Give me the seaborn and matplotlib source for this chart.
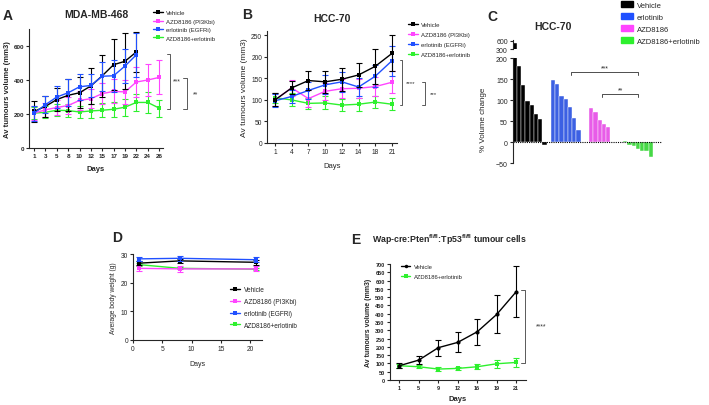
import numpy as np
import pandas as pd
import matplotlib
matplotlib.use("Agg")
import matplotlib.pyplot as plt
import seaborn as sns
from matplotlib.lines import Line2D
from matplotlib.patches import Patch

# ---- panel A: MDA-MB-468 xenograft ----
a_days = [1, 3, 5, 8, 10, 12, 15, 17, 19, 22, 24, 26]
a_vehicle = [215, 245, 285, 310, 325, 365, 425, 490, 510, 565]
a_vehicle_err = [60, 60, 70, 95, 90, 105, 125, 150, 165, 120]
a_azd = [205, 225, 238, 250, 280, 290, 320, 333, 330, 388, 400, 415]
a_azd_err = [40, 40, 45, 50, 55, 55, 60, 70, 70, 90, 95, 100]
a_erl = [205, 255, 300, 325, 360, 368, 422, 425, 482, 548]
a_erl_err = [45, 50, 65, 80, 75, 70, 85, 95, 100, 130]
a_combo = [205, 210, 222, 220, 212, 218, 222, 228, 240, 268, 268, 235]
a_combo_err = [35, 35, 35, 40, 35, 40, 40, 45, 50, 50, 60, 50]

# ---- panel B: HCC-70 xenograft ----
b_days = [1, 4, 7, 10, 12, 14, 18, 21]
b_vehicle = [100, 128, 145, 142, 148, 158, 178, 208]
b_vehicle_err = [15, 15, 22, 25, 27, 28, 40, 42]
b_azd = [100, 128, 103, 120, 126, 127, 131, 141]
b_azd_err = [15, 18, 20, 20, 22, 22, 22, 25]
b_erl = [98, 108, 122, 135, 142, 130, 155, 191]
b_erl_err = [15, 15, 20, 22, 23, 20, 25, 35]
b_combo = [105, 100, 92, 93, 88, 90, 95, 90]
b_combo_err = [12, 15, 13, 15, 13, 15, 13, 14]

# ---- panel C: waterfall, % volume change per tumour ----
c_vehicle = [520, 181, 137, 98, 90, 67, 56, -6]
c_erl = [148, 140, 110, 102, 83, 57, 30]
c_azd = [81, 71, 53, 44, 37]
c_combo = [4, -6, -8, -16, -21, -21, -36]
c_start = [0, 9, 18, 26]  # first slot of each group

# ---- panel D: body weight ----
d_days = [1, 8, 21]
d_vehicle = [26.8, 27.6, 27.1]
d_vehicle_err = [0.8, 0.8, 0.8]
d_azd = [25.0, 24.8, 24.8]
d_azd_err = [1.0, 1.0, 0.9]
d_erl = [28.3, 28.5, 28.0]
d_erl_err = [0.8, 0.8, 0.8]
d_combo = [26.3, 25.0, 24.7]
d_combo_err = [0.5, 0.4, 0.4]

# ---- panel E: Wap-cre tumour cells ----
e_days = [1, 5, 9, 12, 16, 19, 21]
e_vehicle = [86, 120, 195, 227, 291, 396, 533]
e_vehicle_err = [15, 25, 48, 60, 77, 115, 155]
e_combo = [86, 80, 66, 70, 80, 98, 106]
e_combo_err = [12, 10, 10, 10, 15, 25, 28]

BLACK = "#000000"
MAGENTA = "#ff45ff"
BLUE = "#2050ff"
GREEN = "#2ef02e"

sns.set_theme(style="ticks")
plt.rcParams["font.family"] = ["Liberation Sans", "DejaVu Sans"]
plt.rcParams["mathtext.fontset"] = "custom"
plt.rcParams["mathtext.rm"] = "Liberation Sans"
plt.rcParams["mathtext.bf"] = "Liberation Sans:bold"
plt.rcParams["axes.linewidth"] = 0.8
plt.rcParams["xtick.major.width"] = 0.8
plt.rcParams["ytick.major.width"] = 0.8
plt.rcParams["xtick.major.size"] = 2
plt.rcParams["ytick.major.size"] = 2
plt.rcParams["xtick.major.pad"] = 1.5
plt.rcParams["ytick.major.pad"] = 1.5

W, H = 709, 406
fig = plt.figure(figsize=(W / 100, H / 100), dpi=100)


def px_axes(x0, y0, x1, y1):
    return fig.add_axes([x0 / W, 1 - y1 / H, (x1 - x0) / W, (y1 - y0) / H])


def fig_text(x, y, s, **kw):
    fig.text(x / W, 1 - y / H, s, **kw)


def style_ticks(ax, size, bold):
    ax.tick_params(labelsize=size)
    if bold:
        for lbl in ax.get_xticklabels() + ax.get_yticklabels():
            lbl.set_fontweight("bold")


def draw_series(ax, x, y, err, color, marker="s", ms=3):
    ax.errorbar(x, y, yerr=err, fmt="none", ecolor=color, elinewidth=0.8,
                capsize=2, capthick=0.8)
    sns.lineplot(x=x, y=y, color=color, marker=marker, markersize=ms,
                 markeredgewidth=0, linewidth=1, ax=ax, legend=False)


def bracket(ax, x, y0, y1, tick, text, tx, fs):
    ax.plot([x - tick, x, x, x - tick], [y0, y0, y1, y1], color="0.35",
            lw=0.7, clip_on=False)
    ax.text(tx, (y0 + y1) / 2, text, ha="center", va="center", fontsize=fs,
            color="0.2")


def place_legend(ax, handles, labels, x, y, fs, spacing, hl=1.6):
    ax.legend(handles, labels, loc="upper left",
              bbox_to_anchor=(x / W, 1 - y / H), bbox_transform=fig.transFigure,
              frameon=False, fontsize=fs, labelspacing=spacing,
              handlelength=hl, handletextpad=0.6, borderpad=0, borderaxespad=0)


def line_handle(color, marker="s"):
    return Line2D([0], [0], color=color, marker=marker, markersize=2.5,
                  markeredgewidth=0, lw=1)


four_labels_a = ["Vehicle", "AZD8186 (PI3Kbi)", "erlotinib (EGFRi)",
                 "AZD8186+erlotinib"]

# ================= A =================
ax = px_axes(29, 30, 163, 149)
for vals, errs, col in [(a_combo, a_combo_err, GREEN), (a_azd, a_azd_err, MAGENTA),
                        (a_vehicle, a_vehicle_err, BLACK), (a_erl, a_erl_err, BLUE)]:
    draw_series(ax, np.arange(len(vals)), vals, errs, col)
ax.set_xlim(-0.45, 11.35)
ax.set_ylim(0, 700)
ax.set_xticks(np.arange(len(a_days)))
ax.set_xticklabels(a_days)
ax.set_yticks([0, 200, 400, 600])
style_ticks(ax, 4.5, True)
ax.set_xlabel("Days", fontsize=5.5, fontweight="bold", labelpad=5)
ax.set_ylabel("Av tumours volume (mm3)", fontsize=5.5, fontweight="bold", labelpad=2)
ax.set_title("MDA-MB-468", fontsize=7.5, fontweight="bold", pad=9)
sns.despine(ax=ax)
bracket(ax, 11.97, 555, 232, 0.27, "***", 12.6, 5)
bracket(ax, 13.47, 410, 232, 0.35, "**", 14.2, 5)
place_legend(ax, [line_handle(c) for c in [BLACK, MAGENTA, BLUE, GREEN]],
             four_labels_a, 153, 11, 4.3, 0.55)
fig_text(8, 16, "A", fontsize=10, fontweight="bold", va="center", ha="center")

# ================= B =================
ax = px_axes(267, 32, 397, 144)
for vals, errs, col in [(b_combo, b_combo_err, GREEN), (b_azd, b_azd_err, MAGENTA),
                        (b_erl, b_erl_err, BLUE), (b_vehicle, b_vehicle_err, BLACK)]:
    draw_series(ax, np.arange(len(vals)), vals, errs, col)
ax.set_xlim(-0.48, 7.3)
ax.set_ylim(0, 260)
ax.set_xticks(np.arange(len(b_days)))
ax.set_xticklabels(b_days)
ax.set_yticks(np.arange(0, 251, 50))
style_ticks(ax, 4.8, False)
ax.set_xlabel("Days", fontsize=5.5, labelpad=5)
ax.set_ylabel("Av tumours volume (mm3)", fontsize=6, labelpad=2)
ax.set_title("HCC-70", fontsize=7.5, fontweight="bold", pad=7)
sns.despine(ax=ax)
bracket(ax, 7.62, 192, 88, 0.14, "****", 8.1, 4.5)
bracket(ax, 8.98, 142, 88, 0.2, "***", 9.46, 4.5)
place_legend(ax, [line_handle(c) for c in [BLACK, MAGENTA, BLUE, GREEN]],
             four_labels_a, 408, 23, 4.3, 0.8)
fig_text(247, 15, "B", fontsize=10, fontweight="bold", va="center", ha="center")

# ================= C =================
groups = [("Vehicle", c_vehicle, BLACK), ("erlotinib", c_erl, BLUE),
          ("AZD8186", c_azd, MAGENTA), ("AZD8186+erlotinib", c_combo, GREEN)]
rows = []
for (name, vals, _), start in zip(groups, c_start):
    for i, v in enumerate(vals):
        rows.append({"slot": start + i, "change": v, "group": name})
df_c = pd.DataFrame(rows)
pal_c = {name: col for name, _, col in groups}

ax_top = px_axes(512.7, 41, 661.5, 50.3)
ax_bot = px_axes(512.7, 59.3, 661.5, 164.3)
for axc in (ax_top, ax_bot):
    sns.barplot(data=df_c, x="slot", y="change", hue="group", palette=pal_c,
                native_scale=True, dodge=False, width=1.0, edgecolor="white",
                linewidth=0.3, legend=False, ax=axc)
    axc.set_xlim(-0.5, 34.5)
    axc.spines[["top", "right", "bottom"]].set_visible(False)
    axc.set_xticks([])
    axc.set_xlabel("")
    axc.set_ylabel("")
ax_top.set_ylim(300, 625)
ax_top.set_yticks([300, 600])
ax_bot.set_ylim(-50, 200)
ax_bot.set_yticks(np.arange(-50, 201, 50))
style_ticks(ax_top, 5, False)
style_ticks(ax_bot, 5, False)
ax_bot.axhline(0, color="black", lw=0.8, ls=(0, (1, 1)))
ax_bot.set_ylabel("% Volume change", fontsize=5.8, labelpad=2)
ax_bot.yaxis.set_label_coords(-0.17, 0.42)
for x0, x1, y, txt in [(13.2, 29.0, 167, "***"), (20.5, 29.0, 115, "**")]:
    ax_bot.plot([x0, x0, x1, x1], [y - 6, y, y, y - 6], color="0.3", lw=0.7)
    ax_bot.text((x0 + x1) / 2, y + 1, txt, ha="center", va="bottom", fontsize=5)
fig_text(553, 27, "HCC-70", fontsize=7.5, fontweight="bold", ha="center", va="center")
ax_top.legend([Patch(color=c) for _, _, c in groups], [g[0] for g in groups],
              loc="upper left", bbox_to_anchor=(621 / W, 1 - 2 / H),
              bbox_transform=fig.transFigure, frameon=False, fontsize=5.5,
              labelspacing=0.55, handlelength=1.6, handleheight=0.9,
              handletextpad=0.5, borderpad=0, borderaxespad=0)
fig_text(492, 17, "C", fontsize=10, fontweight="bold", va="center", ha="center")

# ================= D =================
ax = px_axes(133, 255, 262, 341)
for vals, errs, col in [(d_combo, d_combo_err, GREEN), (d_azd, d_azd_err, MAGENTA),
                        (d_vehicle, d_vehicle_err, BLACK), (d_erl, d_erl_err, BLUE)]:
    draw_series(ax, d_days, vals, errs, col, ms=2.5)
ax.set_xlim(0, 22)
ax.set_ylim(0, 30)
ax.set_xticks([0, 5, 10, 15, 20])
ax.set_yticks([0, 10, 20, 30])
style_ticks(ax, 4.8, False)
ax.set_xlabel("Days", fontsize=5, labelpad=6)
ax.set_ylabel("Average body weight (g)", fontsize=4.8, labelpad=3)
sns.despine(ax=ax)
place_legend(ax, [line_handle(c) for c in [BLACK, MAGENTA, BLUE, GREEN]],
             four_labels_a, 230, 287, 4.7, 0.75)
fig_text(117, 238, "D", fontsize=10, fontweight="bold", va="center", ha="center")

# ================= E =================
ax = px_axes(389.5, 265, 526, 381)
draw_series(ax, np.arange(len(e_days)), e_combo, e_combo_err, GREEN)
draw_series(ax, np.arange(len(e_days)), e_vehicle, e_vehicle_err, BLACK, marker="o")
ax.set_xlim(-0.5, 6.5)
ax.set_ylim(0, 700)
ax.set_xticks(np.arange(len(e_days)))
ax.set_xticklabels(e_days)
ax.set_yticks(np.arange(0, 701, 50))
style_ticks(ax, 4, True)
ax.set_xlabel("Days", fontsize=5.5, fontweight="bold", labelpad=4)
ax.set_ylabel("Av tumours volume (mm3)", fontsize=5, fontweight="bold", labelpad=2)
sns.despine(ax=ax)
bracket(ax, 6.43, 543, 105, 0.2, "****", 7.3, 5)
place_legend(ax, [line_handle(BLACK, "o"), line_handle(GREEN)],
             ["Vehicle", "AZD8186+erlotinib"], 401, 265, 4.2, 0.75)
fig_text(356, 240, "E", fontsize=10, fontweight="bold", va="center", ha="center")
fig_text(372, 240, r"Wap-cre:Pten$^{\mathbf{fl/fl}}$:Tp53$^{\mathbf{fl/fl}}$ tumour cells",
         fontsize=6.3, fontweight="bold", va="center", ha="left")

fig.savefig("out.png", dpi=100)
